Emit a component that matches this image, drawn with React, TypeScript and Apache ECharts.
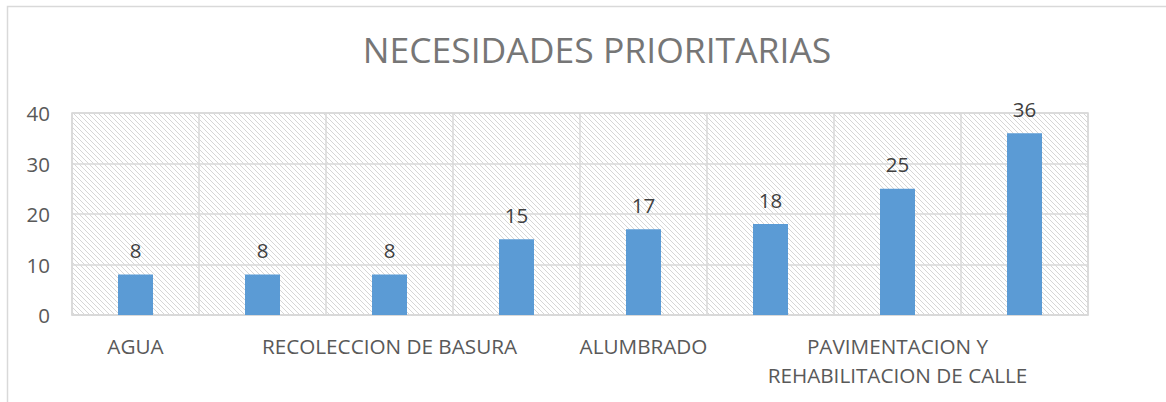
import React, { useEffect, useRef } from "react";
import * as echarts from "echarts";

const title = "NECESIDADES PRIORITARIAS";
const categories = [
  "AGUA",
  "",
  "RECOLECCION DE BASURA",
  "",
  "ALUMBRADO",
  "",
  "PAVIMENTACION Y\nREHABILITACION DE CALLE",
  "",
];
const values = [8, 8, 8, 15, 17, 18, 25, 36];
const yTicks = { min: 0, max: 40, interval: 10 };

function makeHatch(): string {
  const c = document.createElement("canvas");
  c.width = 5;
  c.height = 5;
  const ctx = c.getContext("2d")!;
  ctx.fillStyle = "#ffffff";
  ctx.fillRect(0, 0, 5, 5);
  ctx.fillStyle = "#d6d6d6";
  for (let i = 0; i < 5; i++) ctx.fillRect(i, i, 1, 1);
  return c.toDataURL();
}

export default function App() {
  const ref = useRef<HTMLDivElement>(null);
  useEffect(() => {
    if (!ref.current) return;
    const chart = echarts.init(ref.current, null, { renderer: "svg" });
    const font = "'Open Sans', sans-serif";
    chart.setOption({
      animation: false,
      backgroundColor: "#ffffff",
      title: {
        text: title,
        left: 592,
        textAlign: "center",
        top: 22,
        textStyle: {
          fontFamily: font,
          fontSize: 35.5,
          fontWeight: "normal",
          color: "#767676",
          lineHeight: 44,
        },
      },
      graphic: [
        {
          type: "rect",
          shape: { x: 7.5, y: 6.5, width: 1200, height: 500 },
          style: { fill: "none", stroke: "#d9d9d9", lineWidth: 1.5 },
          silent: true,
          z: -10,
        },
      ],
      grid: {
        left: 72,
        right: 78,
        top: 113,
        bottom: 87,
        show: true,
        backgroundColor: { image: makeHatch(), repeat: "repeat" },
        borderColor: "#d9d9d9",
        borderWidth: 1.5,
      },
      xAxis: {
        type: "category",
        data: categories,
        axisLine: { show: true, lineStyle: { color: "#d9d9d9", width: 1.5 } },
        axisTick: { show: false, interval: 0 },
        splitLine: { show: true, interval: 0, lineStyle: { color: "#d9d9d9", width: 1.5 } },
        axisLabel: {
          interval: 1,
          margin: 16,
          fontFamily: font,
          fontSize: 20.7,
          color: "#595959",
          lineHeight: 29,
          align: "center",
        },
      },
      yAxis: {
        type: "value",
        min: yTicks.min,
        max: yTicks.max,
        interval: yTicks.interval,
        axisLine: { show: false },
        axisTick: { show: false },
        splitLine: { show: true, lineStyle: { color: "#d9d9d9", width: 1.5 } },
        axisLabel: {
          margin: 22,
          fontFamily: font,
          fontSize: 20.5,
          color: "#595959",
        },
      },
      series: [
        {
          type: "bar",
          data: values,
          barWidth: 35,
          itemStyle: { color: "#5b9bd5" },
          label: {
            show: true,
            position: "top",
            distance: 14,
            fontFamily: font,
            fontSize: 20.5,
            color: "#404040",
          },
        },
      ],
    });
    return () => chart.dispose();
  }, []);
  return (
    <div
      ref={ref}
      style={{ position: "fixed", left: 0, top: 0, width: 1166, height: 402 }}
    />
  );
}
